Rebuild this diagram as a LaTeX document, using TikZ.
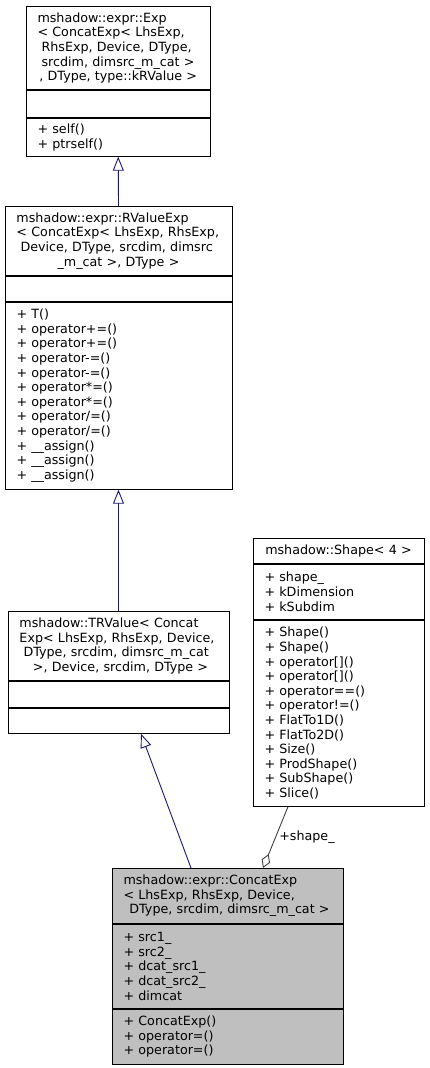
\documentclass[tikz,border=0pt]{standalone}
\usepackage{fontspec}
\newfontfamily\dgfont{DejaVu Sans}
\usetikzlibrary{arrows.meta,positioning}
\definecolor{midnight}{RGB}{25,25,112}
\definecolor{aggray}{RGB}{64,64,64}
\definecolor{hilite}{RGB}{191,191,191}
\newcommand{\lline}[1]{\hspace*{7.5pt}#1\hskip0pt plus 1filll\null}
\newcommand{\lsp}{\hspace*{\fontdimen2\font}}
\tikzset{cls/.style={draw,rectangle,line width=0.9pt,inner ysep=0pt,font=\dgfont\fontsize{12.7}{14.6}\selectfont},
  ttl/.style={cls,align=center,inner xsep=4pt},
  mem/.style={cls,align=left,inner xsep=11.5pt},
  inh/.style={draw=midnight,line width=0.9pt,-{Triangle[open,length=14pt,width=11pt]}},
  agg/.style={draw=aggray,line width=0.9pt,{Diamond[open,length=15pt,width=9pt]}-}}

\begin{document}
\begin{tikzpicture}[x=1pt,y=-1pt]
  \useasboundingbox (0,0) rectangle (429,1068);
  % Exp
  \node[ttl,text width=176.5pt,minimum height=83pt,anchor=north] (exp) at (118.25,6)
    {\lline{mshadow::expr::Exp}\\\lline{< ConcatExp< LhsExp,}\\\lline{\lsp RhsExp, Device, DType,}\\\lline{\lsp srcdim, dimsrc\_m\_cat >}\\, DType, type::kRValue >};
  \node[mem,text width=161.5pt,minimum height=27pt,below=0pt of exp] (expattr) {};
  \node[mem,text width=161.5pt,minimum height=38pt,below=0pt of expattr] (expmeth) {+ self()\\+ ptrself()};
  % RValueExp
  \node[ttl,text width=219pt,minimum height=69pt,anchor=north] (rval) at (118.5,206)
    {\lline{mshadow::expr::RValueExp}\\\lline{< ConcatExp< LhsExp, RhsExp,}\\\lline{\lsp Device, DType, srcdim, dimsrc}\\\_m\_cat >, DType >};
  \node[mem,text width=204pt,minimum height=25pt,below=0pt of rval] (rvalattr) {};
  \node[mem,text width=204pt,minimum height=187pt,below=0pt of rvalattr] (rvalmeth)
    {+ T()\\+ operator+=()\\+ operator+=()\\+ operator-=()\\+ operator-=()\\+ operator*=()\\+ operator*=()\\+ operator/=()\\+ operator/=()\\+ \_\_assign()\\+ \_\_assign()\\+ \_\_assign()};
  % TRValue
  \node[ttl,text width=213pt,minimum height=69pt,anchor=north] (trv) at (118.5,611)
    {\lline{mshadow::TRValue< Concat}\\\lline{Exp< LhsExp, RhsExp, Device,}\\\lline{\lsp DType, srcdim, dimsrc\_m\_cat}\\\lsp>, Device, srcdim, DType >};
  \node[mem,text width=198pt,minimum height=26pt,below=0pt of trv] (trvattr) {};
  \node[mem,text width=198pt,minimum height=25pt,below=0pt of trvattr] (trvmeth) {};
  % Shape
  \node[ttl,text width=163pt,minimum height=25pt,anchor=north] (shp) at (338.5,538) {mshadow::Shape< 4 >};
  \node[mem,text width=148pt,minimum height=55pt,below=0pt of shp] (shpattr)
    {+ shape\_\\+ kDimension\\+ kSubdim};
  \node[mem,text width=148pt,minimum height=186pt,below=0pt of shpattr] (shpmeth)
    {+ Shape()\\+ Shape()\\+ operator[]()\\+ operator[]()\\+ operator==()\\+ operator!=()\\+ FlatTo1D()\\+ FlatTo2D()\\+ Size()\\+ ProdShape()\\+ SubShape()\\+ Slice()};
  % ConcatExp
  \node[ttl,fill=hilite,text width=223pt,minimum height=55pt,anchor=north] (concat) at (227.5,868)
    {\lline{mshadow::expr::ConcatExp}\\\lline{< LhsExp, RhsExp, Device,}\\\lsp DType, srcdim, dimsrc\_m\_cat >};
  \node[mem,fill=hilite,text width=208pt,minimum height=84pt,below=0pt of concat] (concatattr)
    {+ src1\_\\+ src2\_\\+ dcat\_src1\_\\+ dcat\_src2\_\\+ dimcat};
  \node[mem,fill=hilite,text width=208pt,minimum height=55pt,below=0pt of concatattr] (concatmeth)
    {+ ConcatExp()\\+ operator=()\\+ operator=()};
  % edges
  \draw[inh] (rval.north) -- (expmeth.south);
  \draw[inh] (trv.north) -- (rvalmeth.south);
  \draw[inh] ([xshift=-36.5pt]concat.north) -- ([xshift=22.5pt]trvmeth.south);
  \draw[agg] ([xshift=35.5pt]concat.north) -- node[right,font=\dgfont\fontsize{12.7}{14.6}\selectfont] (shplbl) {+shape\_} ([xshift=-50.5pt]shpmeth.south);
\end{tikzpicture}
\end{document}
